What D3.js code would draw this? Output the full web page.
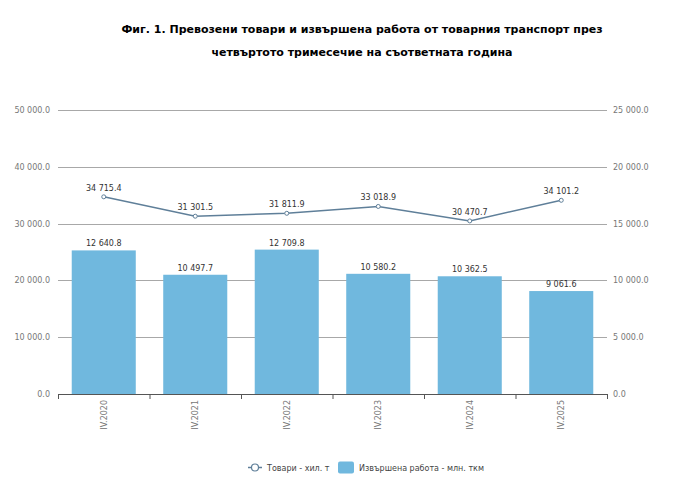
<!DOCTYPE html>
<html>
<head>
<meta charset="utf-8">
<script src="https://cdn.jsdelivr.net/npm/d3@7"></script>
<style>
  body { margin: 0; background: #fff; }
  svg { font-family: "DejaVu Sans", sans-serif; }
</style>
</head>
<body>
<div id="chart"></div>
<script>
// Данни за графиката
const categories = ["IV.2020", "IV.2021", "IV.2022", "IV.2023", "IV.2024", "IV.2025"];
const goods = [34715.4, 31301.5, 31811.9, 33018.9, 30470.7, 34101.2];   // хил. т (лява ос)
const work = [12640.8, 10497.7, 12709.8, 10580.2, 10362.5, 9061.6];     // млн. ткм (дясна ос)
const leftTicks = [0, 10000, 20000, 30000, 40000, 50000];
const rightTicks = [0, 5000, 10000, 15000, 20000, 25000];
const seriesNames = ["Товари - хил. т", "Извършена работа - млн. ткм"];
const titleLines = [
    "Фиг. 1. Превозени товари и извършена работа от товарния транспорт през",
    "четвъртото тримесечие на съответната година"
];

const barColor = "#70b8de";
const lineColor = "#5f7f99";

const width = 693, height = 489;
const margin = { top: 110, right: 86, bottom: 95, left: 58 };

const fmt = v => d3.format(",.1f")(v).replace(/,/g, " ");

const svg = d3.select("#chart").append("svg")
    .attr("width", width)
    .attr("height", height);

// заглавие
svg.selectAll(".title")
    .data(titleLines)
    .enter().append("text")
    .attr("x", 362)
    .attr("y", (d, i) => 33 + i * 23)
    .attr("text-anchor", "middle")
    .style("font-size", "11px")
    .style("font-weight", "bold")
    .attr("fill", "#000")
    .text(d => d);

const x = d3.scaleBand()
    .domain(categories)
    .range([margin.left, width - margin.right])
    .paddingInner(0.3)
    .paddingOuter(0.15);

const yLeft = d3.scaleLinear().domain([0, 50000]).range([height - margin.bottom, margin.top]);
const yRight = d3.scaleLinear().domain([0, 25000]).range([height - margin.bottom, margin.top]);

// мрежа
svg.append("g")
    .selectAll("line")
    .data(leftTicks.slice(1))
    .enter().append("line")
    .attr("x1", margin.left)
    .attr("x2", width - margin.right)
    .attr("y1", d => Math.round(yLeft(d)) + 0.5)
    .attr("y2", d => Math.round(yLeft(d)) + 0.5)
    .attr("stroke", "#a8a8a8")
    .attr("stroke-width", 1);

// лява ос
const leftAxis = svg.append("g")
    .attr("transform", `translate(${margin.left},0)`)
    .call(d3.axisLeft(yLeft).tickValues(leftTicks).tickFormat(fmt).tickSize(0).tickPadding(8));
leftAxis.select(".domain").remove();
leftAxis.selectAll("text").attr("fill", "#777").style("font-size", "8px").style("font-family", "DejaVu Sans");

// дясна ос
const rightAxis = svg.append("g")
    .attr("transform", `translate(${width - margin.right},0)`)
    .call(d3.axisRight(yRight).tickValues(rightTicks).tickFormat(fmt).tickSize(0).tickPadding(6));
rightAxis.select(".domain").remove();
rightAxis.selectAll("text").attr("fill", "#777").style("font-size", "8px").style("font-family", "DejaVu Sans");

// колони
svg.append("g")
    .selectAll("rect")
    .data(work)
    .enter().append("rect")
    .attr("x", (d, i) => x(categories[i]))
    .attr("y", d => yRight(d))
    .attr("width", x.bandwidth())
    .attr("height", d => yRight(0) - yRight(d))
    .attr("fill", barColor);

svg.append("g")
    .selectAll("text")
    .data(work)
    .enter().append("text")
    .attr("x", (d, i) => x(categories[i]) + x.bandwidth() / 2)
    .attr("y", d => yRight(d) - 4)
    .attr("text-anchor", "middle")
    .style("font-size", "8px")
    .attr("fill", "#333")
    .text(fmt);

// долна ос
const step = x.step();
const bottom = height - margin.bottom;
const xAxis = svg.append("g").attr("transform", `translate(0,${bottom})`);
xAxis.append("line")
    .attr("x1", margin.left).attr("x2", width - margin.right)
    .attr("y1", 0.5).attr("y2", 0.5)
    .attr("stroke", "#555");
xAxis.selectAll(".tick")
    .data(d3.range(categories.length + 1))
    .enter().append("line")
    .attr("x1", i => margin.left + i * step + 0.5)
    .attr("x2", i => margin.left + i * step + 0.5)
    .attr("y1", 0).attr("y2", 5)
    .attr("stroke", "#555");
xAxis.selectAll(".lbl")
    .data(categories)
    .enter().append("text")
    .attr("transform", d => `translate(${x(d) + x.bandwidth() / 2 + 3},6) rotate(-90)`)
    .attr("text-anchor", "end")
    .style("font-size", "8px")
    .attr("fill", "#777")
    .text(d => d);

// линия
const line = d3.line()
    .x((d, i) => x(categories[i]) + x.bandwidth() / 2)
    .y(d => yLeft(d));

svg.append("path")
    .datum(goods)
    .attr("d", line)
    .attr("fill", "none")
    .attr("stroke", lineColor)
    .attr("stroke-width", 1.5);

svg.append("g")
    .selectAll("circle")
    .data(goods)
    .enter().append("circle")
    .attr("cx", (d, i) => x(categories[i]) + x.bandwidth() / 2)
    .attr("cy", d => yLeft(d))
    .attr("r", 2)
    .attr("fill", "#fff")
    .attr("stroke", lineColor)
    .attr("stroke-width", 1);

svg.append("g")
    .selectAll("text")
    .data(goods)
    .enter().append("text")
    .attr("x", (d, i) => x(categories[i]) + x.bandwidth() / 2)
    .attr("y", d => yLeft(d) - 6)
    .attr("text-anchor", "middle")
    .style("font-size", "8px")
    .attr("fill", "#333")
    .text(fmt);

// легенда
const legend = svg.append("g").attr("transform", "translate(0,467)");
legend.append("line")
    .attr("x1", 248).attr("x2", 262).attr("y1", 0.5).attr("y2", 0.5)
    .attr("stroke", lineColor).attr("stroke-width", 1.5);
legend.append("circle")
    .attr("cx", 255).attr("cy", 0.5).attr("r", 3.5)
    .attr("fill", "#fff").attr("stroke", lineColor).attr("stroke-width", 1.2);
legend.append("text")
    .attr("x", 267).attr("y", 3.5)
    .style("font-size", "8px").attr("fill", "#444")
    .text(seriesNames[0]);
legend.append("rect")
    .attr("x", 338).attr("y", -5.5).attr("width", 16).attr("height", 12).attr("rx", 2)
    .attr("fill", barColor);
legend.append("text")
    .attr("x", 359).attr("y", 3.5)
    .style("font-size", "8px").attr("fill", "#444")
    .text(seriesNames[1]);
</script>
</body>
</html>
